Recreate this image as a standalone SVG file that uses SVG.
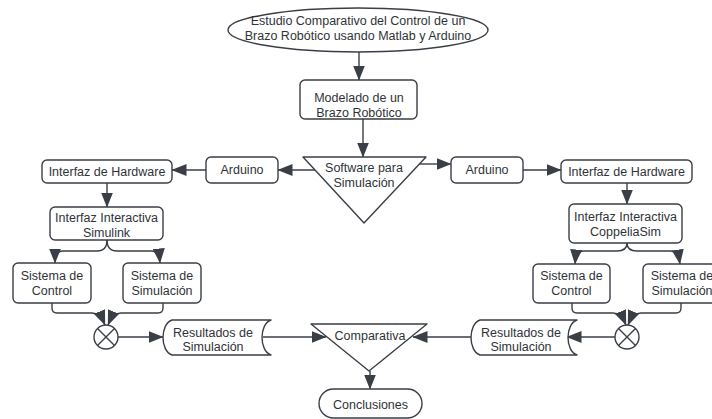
<svg xmlns="http://www.w3.org/2000/svg" width="712" height="419" viewBox="0 0 712 419">
<defs>
<style>
.s{fill:#fff;stroke:#3a3f47;stroke-width:1.4;stroke-linejoin:round}
.c{fill:none;stroke:#3a3f47;stroke-width:1.4}
.a{marker-end:url(#ah)}
text{font-family:"Liberation Sans",Arial,sans-serif;font-size:12.5px;fill:#2f3338;text-anchor:middle}
</style>
<marker id="ah" viewBox="0 0 15 12" refX="14.5" refY="6" markerWidth="15" markerHeight="12" markerUnits="userSpaceOnUse" orient="auto">
<path d="M0,0 L15,6 L0,12 z" fill="#3a3f47"/>
</marker>
</defs>
<rect width="712" height="419" fill="#fff"/>
<g id="connectors">
<path class="c a" d="M359,52 V80"/>
<path class="c a" d="M363,119 V157"/>
<path class="c a" d="M315,170 H278"/>
<path class="c a" d="M206,170 H172"/>
<path class="c a" d="M419,164 H451"/>
<path class="c a" d="M523,170 H561"/>
<path class="c a" d="M107,183 V207"/>
<path class="c a" d="M627,183 V204"/>
<path class="c a" d="M107,240 Q107,251 97,251 H63 Q55,251 55,263"/>
<path class="c a" d="M107,240 Q107,251 117,251 H151 Q159,251 160,263"/>
<path class="c a" d="M627,243 Q627,251 617,251 H584 Q576,251 575,264"/>
<path class="c a" d="M627,243 Q627,251 637,251 H670 Q678,251 680,264"/>
<path class="c a" d="M52,303 V308 Q52,313 57,313 H92 Q100,313 105,325"/>
<path class="c a" d="M163,303 V308 Q163,313 158,313 H121 Q113,313 108,325"/>
<path class="c a" d="M572,303 V308 Q572,313 577,313 H613 Q621,313 626,325"/>
<path class="c a" d="M681,303 V308 Q681,313 676,313 H641 Q633,313 628,325"/>
<path class="c a" d="M118,337 H163"/>
<path class="c a" d="M263,337 H326"/>
<path class="c a" d="M615,337 H567"/>
<path class="c a" d="M471,337 H413"/>
<path class="c a" d="M370,371 V389"/>
</g>
<g id="n-title"><ellipse class="s" cx="358" cy="30" rx="130" ry="22"/><text x="358" y="25">Estudio Comparativo del Control de un</text><text x="358" y="40">Brazo Robótico usando Matlab y Arduino</text></g>
<g id="n-modelado"><rect class="s" x="300" y="80" width="117" height="39" rx="5"/><text x="359" y="102">Modelado de un</text><text x="359" y="117">Brazo Robótico</text></g>
<g id="n-software"><path class="s" d="M303,157 H426 L364,223 Z"/><text x="364" y="171.5">Software para</text><text x="364" y="187">Simulación</text></g>
<g id="n-arduino-l"><rect class="s" x="206" y="157" width="72" height="26" rx="5"/><text x="242" y="174">Arduino</text></g>
<g id="n-arduino-r"><rect class="s" x="451" y="157" width="72" height="26" rx="5"/><text x="487" y="174">Arduino</text></g>
<g id="n-hw-l"><rect class="s" x="42" y="160" width="130" height="23" rx="5"/><text x="107" y="176">Interfaz de Hardware</text></g>
<g id="n-hw-r"><rect class="s" x="561" y="160" width="131" height="23" rx="5"/><text x="626.5" y="176">Interfaz de Hardware</text></g>
<g id="n-simulink"><rect class="s" x="50" y="207" width="113" height="33" rx="5"/><text x="106.5" y="221.5">Interfaz Interactiva</text><text x="106.5" y="236.5">Simulink</text></g>
<g id="n-coppelia"><rect class="s" x="569" y="204" width="113" height="39" rx="5"/><text x="625.5" y="220.5">Interfaz Interactiva</text><text x="625.5" y="235.5">CoppeliaSim</text></g>
<g id="n-ctrl-l"><rect class="s" x="13" y="263" width="78" height="40" rx="5"/><text x="52" y="279.5">Sistema de</text><text x="52" y="295">Control</text></g>
<g id="n-sim-l"><rect class="s" x="123" y="263" width="78" height="40" rx="5"/><text x="162" y="279.5">Sistema de</text><text x="162" y="295">Simulación</text></g>
<g id="n-ctrl-r"><rect class="s" x="533" y="264" width="77" height="39" rx="5"/><text x="571.5" y="279.5">Sistema de</text><text x="571.5" y="295">Control</text></g>
<g id="n-sim-r"><rect class="s" x="643" y="264" width="78" height="39" rx="5"/><text x="682" y="279.5">Sistema de</text><text x="682" y="295">Simulación</text></g>
<g id="n-or-l"><circle class="s" cx="106" cy="337" r="12"/><path class="c" d="M97.5,328.5 L114.5,345.5 M114.5,328.5 L97.5,345.5"/></g>
<g id="n-or-r"><circle class="s" cx="627" cy="337" r="12"/><path class="c" d="M618.5,328.5 L635.5,345.5 M635.5,328.5 L618.5,345.5"/></g>
<g id="n-res-l"><path class="s" d="M172,320 H271 C259,324 259,351 271,355 H172 C160,351 160,324 172,320 Z"/><text x="213" y="336.5">Resultados de</text><text x="213" y="350.5">Simulación</text></g>
<g id="n-res-r"><path class="s" d="M480,320 H577 C565,324 565,351 577,355 H480 C468,351 468,324 480,320 Z"/><text x="521" y="336.5">Resultados de</text><text x="521" y="350.5">Simulación</text></g>
<g id="n-comparativa"><path class="s" d="M311,324 H427 L369,371 Z"/><text x="370" y="339.5">Comparativa</text></g>
<g id="n-conclusiones"><rect class="s" x="319" y="389" width="103" height="29" rx="14.5"/><text x="370.5" y="408.5">Conclusiones</text></g>
</svg>
